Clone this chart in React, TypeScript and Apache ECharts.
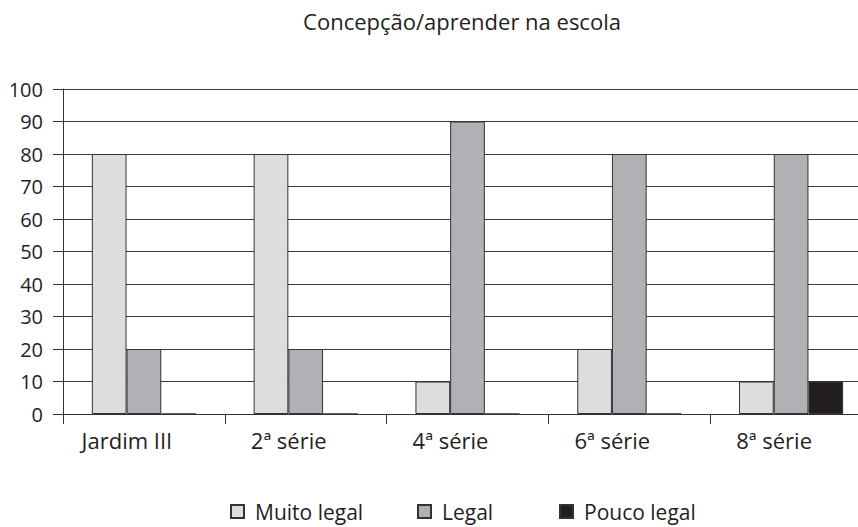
import React, { useEffect, useRef } from "react";
import * as echarts from "echarts";

const categories = ["Jardim III", "2ª série", "4ª série", "6ª série", "8ª série"];
const seriesNames = ["Muito legal", "Legal", "Pouco legal"];
const muitoLegal = [80, 80, 10, 20, 10];
const legal = [20, 20, 90, 80, 80];
const poucoLegal = [0, 0, 0, 0, 10];
const colors = ["#dcdddf", "#b0b1b4", "#231f20"];
const yTicks = { min: 0, max: 100, interval: 10 };

const FONT = "'Open Sans', 'Liberation Sans', Arial, sans-serif";

export default function App() {
  const ref = useRef<HTMLDivElement>(null);
  useEffect(() => {
    if (!ref.current) return;
    const chart = echarts.init(ref.current, undefined, { renderer: "svg" });
    const values = [muitoLegal, legal, poucoLegal];
    const legendLefts = [230, 417, 559];
    chart.setOption({
      animation: false,
      backgroundColor: "#ffffff",
      title: {
        text: "Concepção/aprender na escola",
        left: 462,
        textAlign: "center",
        top: 10,
        padding: 0,
        textStyle: { fontFamily: FONT, fontSize: 22, fontWeight: "normal", color: "#231f20" },
      },
      legend: seriesNames.map((n, i) => ({
        data: [n],
        left: legendLefts[i],
        top: 501,
        padding: 0,
        itemWidth: 13,
        itemHeight: 13,
        icon: "rect",
        textStyle: { fontFamily: FONT, fontSize: 21, color: "#231f20", padding: [0, 0, 0, 6] },
      })),
      grid: {
        left: 63,
        width: 809,
        top: 89,
        bottom: 113,
        containLabel: false,
        outerBoundsMode: "none",
      },
      xAxis: {
        type: "category",
        data: categories,
        axisLine: { show: true, lineStyle: { color: "#333", width: 1 } },
        axisTick: { show: true, length: 10, lineStyle: { color: "#333" } },
        axisLabel: {
          fontFamily: FONT,
          fontSize: 22,
          color: "#231f20",
          margin: 15,
          padding: [0, 34, 0, 0],
        },
      },
      yAxis: {
        type: "value",
        min: yTicks.min,
        max: yTicks.max,
        interval: yTicks.interval,
        axisLine: { show: true, lineStyle: { color: "#333", width: 1 } },
        axisTick: { show: true, length: 10, lineStyle: { color: "#333" } },
        axisLabel: { fontFamily: FONT, fontSize: 20, color: "#231f20", margin: 20 },
        splitLine: { show: true, lineStyle: { color: "#3a3a3a", width: 1 } },
      },
      series: seriesNames.map((n, i) => ({
        name: n,
        type: "bar",
        data: values[i],
        barWidth: 34.7,
        barGap: "0%",
        itemStyle: { color: colors[i], borderColor: "#333", borderWidth: 1 },
      })),
    });
    return () => chart.dispose();
  }, []);
  return (
    <div
      style={{
        position: "absolute",
        left: 0,
        top: 0,
        width: 858,
        height: 527,
        overflow: "hidden",
      }}
    >
      <div ref={ref} style={{ width: 900, height: 527 }} />
    </div>
  );
}
